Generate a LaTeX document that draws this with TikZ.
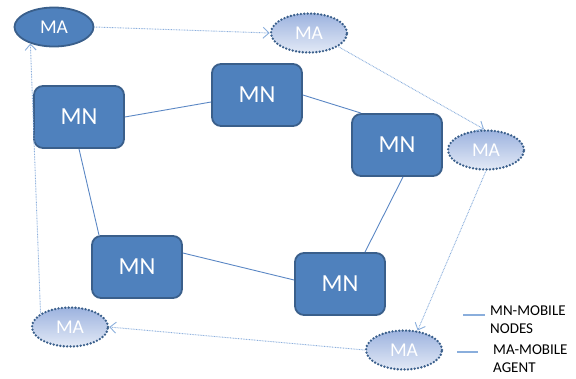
\documentclass[tikz,border=0pt]{standalone}
\usepackage{fontspec}
\setmainfont{Carlito}
\usetikzlibrary{shapes.geometric,arrows.meta}
\definecolor{mnfill}{HTML}{4F81BD}
\definecolor{mnedge}{HTML}{3A5F8B}
\definecolor{matop}{HTML}{9DB3DF}
\definecolor{mabot}{HTML}{E2E9F6}
\definecolor{link}{HTML}{5B87C4}
\definecolor{trail}{HTML}{8AAEDC}
\begin{document}
\begin{tikzpicture}[x=1pt,y=-1pt,
  mnbox/.style={draw=mnedge,line width=1.8pt,fill=mnfill,rounded corners=9pt,
    minimum width=90pt,minimum height=62pt,text=white,font=\fontsize{24.5}{28}\selectfont,inner sep=0pt},
  masolid/.style={ellipse,draw=mnedge,line width=1.8pt,fill=mnfill,minimum width=79pt,
    minimum height=39pt,text=white,font=\fontsize{19.5}{22}\selectfont,inner sep=0pt},
  maghost/.style={ellipse,draw=mnedge,line width=2.6pt,dash pattern=on 0pt off 3.4pt,line cap=round,
    top color=matop,bottom color=mabot,minimum width=76pt,minimum height=39pt,
    text=white,font=\fontsize{19.5}{22}\selectfont,inner sep=0pt},
  mnlink/.style={draw=link,line width=0.9pt},
  trailarrow/.style={draw=trail,line width=0.9pt,dash pattern=on 0.8pt off 0.8pt,
    -{Straight Barb[length=6pt,width=11pt,line width=0.9pt]}},
  legline/.style={draw=trail,line width=1.2pt},
  legtext/.style={anchor=north west,align=left,text=black,font=\fontsize{15}{17.5}\selectfont,inner sep=0pt}
]
\useasboundingbox (0,0) rectangle (576,378);

% mobile nodes
\node[mnbox] (mn1) at (79,117) {MN};
\node[mnbox] (mn2) at (257,95) {MN};
\node[mnbox] (mn3) at (397,145) {MN};
\node[mnbox] (mn4) at (137,267) {MN};
\node[mnbox] (mn5) at (340,284) {MN};

% links between mobile nodes
\draw[mnlink] (mn1.east) -- ([yshift=-7pt]mn2.west);
\draw[mnlink] (mn2.east) -- ([xshift=10pt]mn3.north west);
\draw[mnlink] ([xshift=6pt]mn3.south) -- ([xshift=25pt]mn5.north);
\draw[mnlink] ([yshift=14pt]mn4.east) -- ([yshift=4pt]mn5.west);
\draw[mnlink] (mn1.south) -- ([xshift=-38pt]mn4.north);

% mobile agents
\node[masolid] (ma1) at (54,27) {MA};
\node[maghost] (ma2) at (309,33) {MA};
\node[maghost] (ma3) at (486,150) {MA};
\node[maghost] (ma4) at (404,350) {MA};
\node[maghost] (ma5) at (70,327) {MA};

% agent trail
\draw[trailarrow] (ma1.east) -- (ma2.west);
\draw[trailarrow] (ma2.-25) -- ([xshift=-2pt]ma3.north);
\draw[trailarrow] (ma3.south) -- (ma4.55);
\draw[trailarrow] (ma4.west) -- (ma5.east);
\draw[trailarrow] (ma5.155) -- (ma1.215);

% legend
\coordinate (l1a) at (463,315);
\coordinate (l1b) at (485,315);
\coordinate (l2a) at (457,352);
\coordinate (l2b) at (478,352);
\draw[legline] (l1a) -- (l1b);
\draw[legline] (l2a) -- (l2b);
\node[legtext] (leg1) at (490,306) {MN-MOBILE\\NODES};
\node[legtext] (leg2) at (493,345) {MA-MOBILE\\AGENT};
\end{tikzpicture}
\end{document}
